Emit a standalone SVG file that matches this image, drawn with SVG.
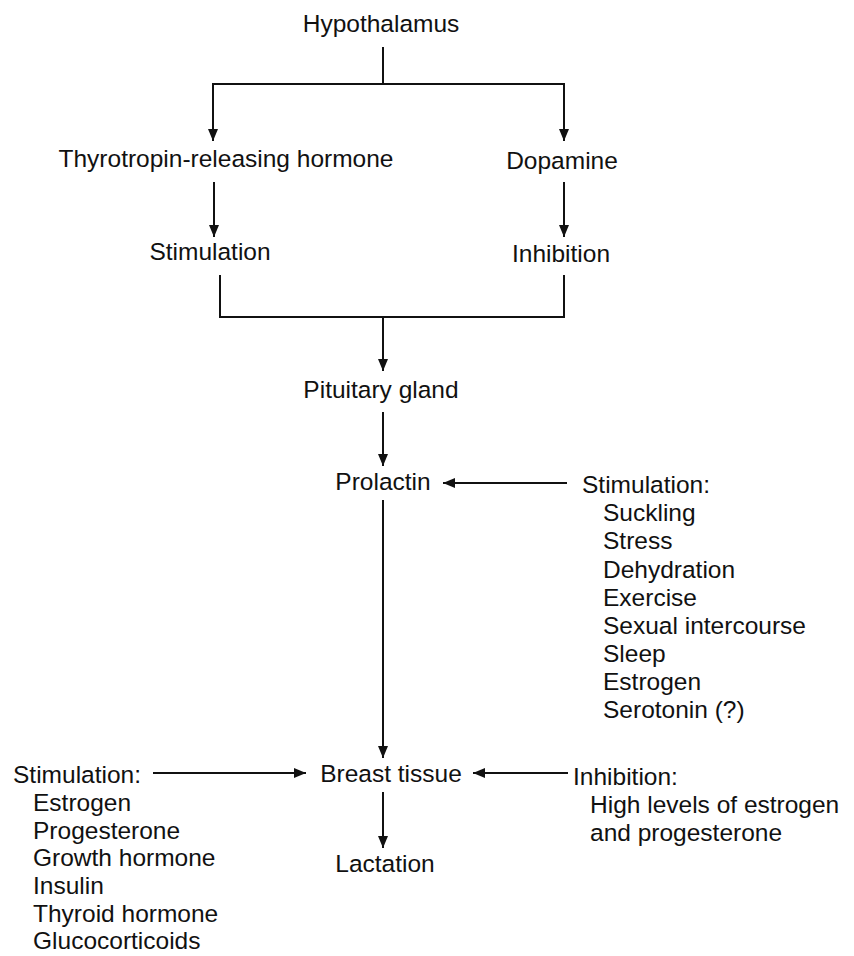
<svg xmlns="http://www.w3.org/2000/svg" width="854" height="956" viewBox="0 0 854 956">
<style>
text{font-family:"Liberation Sans",Arial,sans-serif;font-size:24.5px;fill:#111}
.c{text-anchor:middle}
.ln{stroke:#111;stroke-width:2;fill:none}
.ar{marker-end:url(#ah)}
</style>
<defs>
<marker id="ah" markerUnits="userSpaceOnUse" markerWidth="12" markerHeight="12" refX="12" refY="5" orient="auto">
<path d="M0,0 L12,5 L0,10 z" fill="#111"/>
</marker>
</defs>
<rect width="854" height="956" fill="#fff"/>
<g id="connectors">
<line class="ln" x1="383" y1="47" x2="383" y2="84"/>
<line class="ln" x1="213" y1="84" x2="564" y2="84"/>
<line class="ln ar" x1="213" y1="83" x2="213" y2="141"/>
<line class="ln ar" x1="564" y1="83" x2="564" y2="141"/>
<line class="ln ar" x1="214" y1="182" x2="214" y2="237"/>
<line class="ln ar" x1="564" y1="182" x2="564" y2="237"/>
<polyline class="ln" points="220,275 220,317 564,317 564,275"/>
<line class="ln ar" x1="383" y1="317" x2="383" y2="371"/>
<line class="ln ar" x1="383" y1="412" x2="383" y2="466"/>
<line class="ln ar" x1="567" y1="483" x2="443" y2="483"/>
<line class="ln ar" x1="383" y1="500" x2="383" y2="758"/>
<line class="ln ar" x1="153" y1="773" x2="306" y2="773"/>
<line class="ln ar" x1="568" y1="773" x2="473" y2="773"/>
<line class="ln ar" x1="383" y1="792" x2="383" y2="848"/>
</g>
<g id="hypothalamus"><text class="c" x="381" y="32">Hypothalamus</text></g>
<g id="trh"><text class="c" x="226" y="167">Thyrotropin-releasing hormone</text></g>
<g id="dopamine"><text class="c" x="562" y="169">Dopamine</text></g>
<g id="stimulation-top"><text class="c" x="210" y="260">Stimulation</text></g>
<g id="inhibition-top"><text class="c" x="561" y="262">Inhibition</text></g>
<g id="pituitary"><text class="c" x="381" y="398">Pituitary gland</text></g>
<g id="prolactin"><text class="c" x="383" y="490">Prolactin</text></g>
<g id="prolactin-stimulation">
<text x="582" y="493">Stimulation:</text>
<text x="603" y="521">Suckling</text>
<text x="603" y="549">Stress</text>
<text x="603" y="578">Dehydration</text>
<text x="603" y="606">Exercise</text>
<text x="603" y="634">Sexual intercourse</text>
<text x="603" y="662">Sleep</text>
<text x="603" y="690">Estrogen</text>
<text x="603" y="718">Serotonin (?)</text>
</g>
<g id="breast-tissue"><text class="c" x="391" y="782">Breast tissue</text></g>
<g id="breast-stimulation">
<text x="13" y="783">Stimulation:</text>
<text x="33" y="811">Estrogen</text>
<text x="33" y="839">Progesterone</text>
<text x="33" y="866">Growth hormone</text>
<text x="33" y="894">Insulin</text>
<text x="33" y="922">Thyroid hormone</text>
<text x="33" y="949">Glucocorticoids</text>
</g>
<g id="breast-inhibition">
<text x="573" y="785">Inhibition:</text>
<text x="590" y="813">High levels of estrogen</text>
<text x="590" y="841">and progesterone</text>
</g>
<g id="lactation"><text class="c" x="385" y="872">Lactation</text></g>
</svg>
